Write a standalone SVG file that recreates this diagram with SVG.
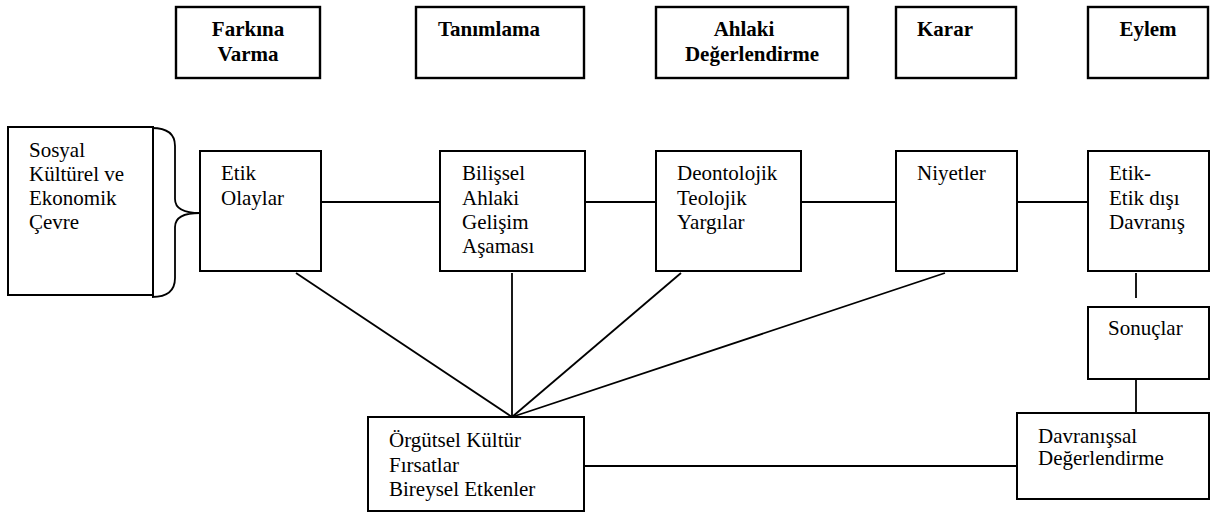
<svg xmlns="http://www.w3.org/2000/svg" width="1215" height="513" viewBox="0 0 1215 513">
  <style>
    .box { fill: #ffffff; stroke: #000000; stroke-width: 2; }
    .head { fill: #ffffff; stroke: #000000; stroke-width: 2.4; }
    .t { font-family: "Liberation Serif", "Times New Roman", serif; font-size: 21px; fill: #000000; }
    .b { font-weight: bold; }
    .c { text-anchor: middle; }
    .link { fill: none; stroke: #000000; stroke-width: 1.8; }
  </style>
  <rect width="1215" height="513" fill="#ffffff"/>

  <!-- stage headings -->
  <g id="stage-farkina-varma">
    <rect class="head" x="176" y="7" width="144" height="71"/>
    <text class="t b c" x="248" y="36">Farkına</text>
    <text class="t b c" x="248" y="61">Varma</text>
  </g>
  <g id="stage-tanimlama">
    <rect class="head" x="416" y="7" width="168" height="71"/>
    <text class="t b" x="438" y="36">Tanımlama</text>
  </g>
  <g id="stage-ahlaki-degerlendirme">
    <rect class="head" x="656" y="7" width="192" height="71"/>
    <text class="t b c" x="744" y="36">Ahlaki</text>
    <text class="t b c" x="752" y="61">Değerlendirme</text>
  </g>
  <g id="stage-karar">
    <rect class="head" x="896" y="7" width="120" height="71"/>
    <text class="t b" x="917" y="36">Karar</text>
  </g>
  <g id="stage-eylem">
    <rect class="head" x="1088" y="7" width="120" height="71"/>
    <text class="t b c" x="1148" y="36">Eylem</text>
  </g>

  <!-- connectors -->
  <g id="connectors">
    <path class="link" d="M152,128 Q175,128 175,146 L175,199 Q175,213 200,213 Q175,213 175,227 L175,278 Q175,297 152,297"/>
    <line class="link" x1="321" y1="202" x2="440" y2="202"/>
    <line class="link" x1="585" y1="202" x2="656" y2="202"/>
    <line class="link" x1="801" y1="202" x2="896" y2="202"/>
    <line class="link" x1="1017" y1="202" x2="1088" y2="202"/>
    <line class="link" x1="296" y1="273" x2="512" y2="417"/>
    <line class="link" x1="512" y1="273" x2="512" y2="417"/>
    <line class="link" x1="681" y1="273" x2="512" y2="417"/>
    <line class="link" x1="945" y1="273" x2="512" y2="417"/>
    <line class="link" x1="1136" y1="273" x2="1136" y2="298"/>
    <line class="link" x1="1136" y1="379" x2="1136" y2="413"/>
    <line class="link" x1="584" y1="466" x2="1017" y2="466"/>
  </g>

  <!-- process nodes -->
  <g id="node-cevre">
    <rect class="box" x="8" y="127" width="145" height="168"/>
    <text class="t" x="29" y="157">Sosyal</text>
    <text class="t" x="29" y="181">Kültürel ve</text>
    <text class="t" x="29" y="205">Ekonomik</text>
    <text class="t" x="29" y="229">Çevre</text>
  </g>
  <g id="node-etik-olaylar">
    <rect class="box" x="200" y="151" width="121" height="120"/>
    <text class="t" x="221" y="180">Etik</text>
    <text class="t" x="221" y="205">Olaylar</text>
  </g>
  <g id="node-bilissel">
    <rect class="box" x="440" y="151" width="145" height="120"/>
    <text class="t" x="462" y="180">Bilişsel</text>
    <text class="t" x="462" y="205">Ahlaki</text>
    <text class="t" x="462" y="229">Gelişim</text>
    <text class="t" x="462" y="253">Aşaması</text>
  </g>
  <g id="node-yargilar">
    <rect class="box" x="656" y="151" width="145" height="120"/>
    <text class="t" x="677" y="180">Deontolojik</text>
    <text class="t" x="677" y="205">Teolojik</text>
    <text class="t" x="677" y="229">Yargılar</text>
  </g>
  <g id="node-niyetler">
    <rect class="box" x="896" y="151" width="121" height="120"/>
    <text class="t" x="917" y="180">Niyetler</text>
  </g>
  <g id="node-davranis">
    <rect class="box" x="1088" y="151" width="121" height="120"/>
    <text class="t" x="1109" y="180">Etik-</text>
    <text class="t" x="1109" y="205">Etik dışı</text>
    <text class="t" x="1109" y="229">Davranış</text>
  </g>
  <g id="node-sonuclar">
    <rect class="box" x="1088" y="307" width="121" height="72"/>
    <text class="t" x="1108" y="335">Sonuçlar</text>
  </g>
  <g id="node-degerlendirme">
    <rect class="box" x="1017" y="413" width="192" height="86"/>
    <text class="t" x="1038" y="443">Davranışsal</text>
    <text class="t" x="1038" y="465">Değerlendirme</text>
  </g>
  <g id="node-orgutsel">
    <rect class="box" x="368" y="417" width="216" height="94"/>
    <text class="t" x="389" y="447">Örgütsel Kültür</text>
    <text class="t" x="389" y="472">Fırsatlar</text>
    <text class="t" x="389" y="496">Bireysel Etkenler</text>
  </g>
</svg>
